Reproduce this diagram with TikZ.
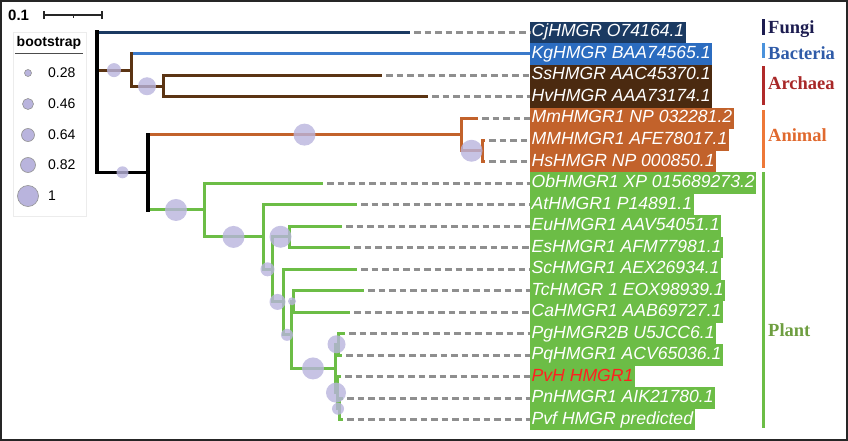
\documentclass[tikz,border=0pt]{standalone}
\usepackage{fontspec}
\setmainfont{Liberation Sans}
\newfontfamily\grpfont{Liberation Serif}
\usetikzlibrary{calc}
\definecolor{fungi}{HTML}{1B3A62}
\definecolor{bact}{HTML}{2B6CC0}
\definecolor{bactline}{HTML}{3B7ACB}
\definecolor{archbox}{HTML}{4B2A10}
\definecolor{archline}{HTML}{5B3413}
\definecolor{anim}{HTML}{C2622B}
\definecolor{plant}{HTML}{6CBD46}
\definecolor{pvred}{HTML}{FF2020}
\definecolor{bootfill}{HTML}{B9B4DD}
\definecolor{dashgrey}{HTML}{8F8F8F}
\definecolor{fungitxt}{HTML}{1C1C50}
\definecolor{bacttxt}{HTML}{2F5BA8}
\definecolor{bactbar}{HTML}{4A92DC}
\definecolor{archtxt}{HTML}{A82828}
\definecolor{archbar}{HTML}{B02A2A}
\definecolor{animtxt}{HTML}{E0692E}
\definecolor{animbar}{HTML}{EE7838}
\definecolor{planttxt}{HTML}{6E9E40}
\tikzset{
  lab/.style={anchor=west, text=white, font=\itshape\fontsize{17.6}{20}\selectfont,
    inner xsep=1.5pt, inner ysep=0pt, minimum height=21.5pt, text height=12.8pt, text depth=3.8pt},
  branch/.style={line width=3pt},
  vert/.style={line width=3pt, line cap=rect},
  tipline/.style={dashgrey, line width=3pt, dash pattern=on 6.5pt off 4pt, dash phase=6.5pt},
  boot/.style={fill=bootfill, fill opacity=0.8},
  bootkey/.style={circle, draw=gray!85, fill=bootfill, inner sep=0pt, line width=0.6pt},
  keytxt/.style={anchor=west, inner sep=0pt, font=\fontsize{14}{16}\selectfont},
  grp/.style={anchor=base west, inner sep=0pt, font=\grpfont\bfseries\fontsize{18.5}{20}\selectfont},
  grpbar/.style={line width=3pt},
  scalebar/.style={gray!30!black, line width=2pt},
}
\begin{document}
\begin{tikzpicture}[x=1pt,y=-1pt]
  \useasboundingbox (0,0) rectangle (848,441);
  \draw[line width=2pt, black!85] (1,1) rectangle (847,439.5);

  \node[lab, fill=fungi] (cj) at (530,32.5) {CjHMGR O74164.1};
  \node[lab, fill=bact] (kg) at (530,54) {KgHMGR BAA74565.1};
  \node[lab, fill=archbox] (ss) at (530,75.5) {SsHMGR AAC45370.1};
  \node[lab, fill=archbox] (hv) at (530,97) {HvHMGR AAA73174.1};
  \node[lab, fill=anim] (mm) at (530,118.5) {MmHMGR1 NP 032281.2};
  \node[lab, fill=anim] (mmm) at (530,140) {MMHMGR1 AFE78017.1};
  \node[lab, fill=anim] (hs) at (530,161.5) {HsHMGR NP 000850.1};
  \node[lab, fill=plant] (ob) at (530,183) {ObHMGR1 XP 015689273.2};
  \node[lab, fill=plant] (at) at (530,204.5) {AtHMGR1 P14891.1};
  \node[lab, fill=plant] (eu) at (530,226) {EuHMGR1 AAV54051.1};
  \node[lab, fill=plant] (es) at (530,247.5) {EsHMGR1 AFM77981.1};
  \node[lab, fill=plant] (sc) at (530,269) {ScHMGR1 AEX26934.1};
  \node[lab, fill=plant] (tc) at (530,290.5) {TcHMGR 1 EOX98939.1};
  \node[lab, fill=plant] (ca) at (530,312) {CaHMGR1 AAB69727.1};
  \node[lab, fill=plant] (pg) at (530,333.5) {PgHMGR2B U5JCC6.1};
  \node[lab, fill=plant] (pq) at (530,355) {PqHMGR1 ACV65036.1};
  \node[lab, fill=plant, text=pvred] (pvh) at (530,376.5) {PvH HMGR1};
  \node[lab, fill=plant] (pn) at (530,398) {PnHMGR1 AIK21780.1};
  \node[lab, fill=plant] (pvf) at (530,419.5) {Pvf HMGR predicted};

  \coordinate (cj-t) at (410,32.5);
  \coordinate (ss-t) at (382,75.5);
  \coordinate (hv-t) at (428,97);
  \coordinate (mm-t) at (478,118.5);
  \coordinate (mmm-t) at (485,140);
  \coordinate (hs-t) at (485,161.5);
  \coordinate (ob-t) at (323,183);
  \coordinate (at-t) at (357,204.5);
  \coordinate (eu-t) at (342,226);
  \coordinate (es-t) at (350,247.5);
  \coordinate (sc-t) at (357,269);
  \coordinate (tc-t) at (364,290.5);
  \coordinate (ca-t) at (350,312);
  \coordinate (pg-t) at (345,333.5);
  \coordinate (pq-t) at (342,355);
  \coordinate (pvh-t) at (341,376.5);
  \coordinate (pn-t) at (343,398);
  \coordinate (pvf-t) at (343,419.5);

  \coordinate (root) at (97,32.5);
  \coordinate (q) at (131,70.13);
  \coordinate (arch) at (163,86.25);
  \coordinate (r2) at (148,172.3);
  \coordinate (an) at (461,134.63);
  \coordinate (mmhs) at (482,150.75);
  \coordinate (p) at (204,209.96);
  \coordinate (a) at (263,236.92);
  \coordinate (b) at (272,269.34);
  \coordinate (eues) at (289,236.75);
  \coordinate (c) at (283,301.92);
  \coordinate (d) at (291,334.84);
  \coordinate (tcca) at (293,301.25);
  \coordinate (e) at (335,368.44);
  \coordinate (f1) at (338,344.25);
  \coordinate (g) at (337,392.63);
  \coordinate (h) at (339,408.75);

  \begin{scope}[tipline]
    \draw (cj-t) -- (cj.west);
    \draw (ss-t) -- (ss.west);
    \draw (hv-t) -- (hv.west);
    \draw (mm-t) -- (mm.west);
    \draw (mmm-t) -- (mmm.west);
    \draw (hs-t) -- (hs.west);
    \draw (ob-t) -- (ob.west);
    \draw (at-t) -- (at.west);
    \draw (eu-t) -- (eu.west);
    \draw (es-t) -- (es.west);
    \draw (sc-t) -- (sc.west);
    \draw (tc-t) -- (tc.west);
    \draw (ca-t) -- (ca.west);
    \draw (pg-t) -- (pg.west);
    \draw (pq-t) -- (pq.west);
    \draw (pvh-t) -- (pvh.west);
    \draw (pn-t) -- (pn.west);
    \draw (pvf-t) -- (pvf.west);
  \end{scope}

  \begin{scope}[branch]
    \draw[fungi] (root |- cj-t) -- (cj-t);
    \draw[archline] (root |- q) -- (q);
    \draw[bactline] (q |- kg) -- (kg.west);
    \draw[archline] (q |- arch) -- (arch);
    \draw[archline] (arch |- ss-t) -- (ss-t);
    \draw[archline] (arch |- hv-t) -- (hv-t);
    \draw[black] (root |- r2) -- (r2);
    \draw[anim] (r2 |- an) -- (an);
    \draw[anim] (an |- mm-t) -- (mm-t);
    \draw[anim] (an |- mmhs) -- (mmhs);
    \draw[anim] (mmhs |- mmm-t) -- (mmm-t);
    \draw[anim] (mmhs |- hs-t) -- (hs-t);
  \end{scope}
  \begin{scope}[branch, plant]
    \draw (r2 |- p) -- (p);
    \draw (p |- ob-t) -- (ob-t);
    \draw (p |- a) -- (a);
    \draw (a |- at-t) -- (at-t);
    \draw (a |- b) -- (b);
    \draw (b |- eues) -- (eues);
    \draw (eues |- eu-t) -- (eu-t);
    \draw (eues |- es-t) -- (es-t);
    \draw (b |- c) -- (c);
    \draw (c |- sc-t) -- (sc-t);
    \draw (c |- d) -- (d);
    \draw (d |- tcca) -- (tcca);
    \draw (tcca |- tc-t) -- (tc-t);
    \draw (tcca |- ca-t) -- (ca-t);
    \draw (d |- e) -- (e);
    \draw (e |- f1) -- (f1);
    \draw (f1 |- pg-t) -- (pg-t);
    \draw (f1 |- pq-t) -- (pq-t);
    \draw (e |- g) -- (g);
    \draw (g |- pvh-t) -- (pvh-t);
    \draw (g |- h) -- (h);
    \draw (h |- pn-t) -- (pn-t);
    \draw (h |- pvf-t) -- (pvf-t);
  \end{scope}

  \begin{scope}[vert]
    \draw[black, line width=4pt] (root |- cj-t) -- (root |- r2);
    \draw[archline] (q |- kg) -- (q |- arch);
    \draw[archline] (arch |- ss-t) -- (arch |- hv-t);
    \draw[black, line width=4pt] (r2 |- an) -- (r2 |- p);
    \draw[anim] (an |- mm-t) -- (an |- mmhs);
    \draw[anim] (mmhs |- mmm-t) -- (mmhs |- hs-t);
    \draw[plant] (p |- ob-t) -- (p |- a);
    \draw[plant] (a |- at-t) -- (a |- b);
    \draw[plant] (b |- eues) -- (b |- c);
    \draw[plant] (eues |- eu-t) -- (eues |- es-t);
    \draw[plant] (c |- sc-t) -- (c |- d);
    \draw[plant] (d |- tcca) -- (d |- e);
    \draw[plant] (tcca |- tc-t) -- (tcca |- ca-t);
    \draw[plant] (e |- f1) -- (e |- g);
    \draw[plant] (f1 |- pg-t) -- (f1 |- pq-t);
    \draw[plant] (g |- pvh-t) -- (g |- h);
    \draw[plant] (h |- pn-t) -- (h |- pvf-t);
  \end{scope}

  \begin{scope}[boot]
    \fill ($(root |- q)!0.5!(q)$) circle (7pt);
    \fill ($(q |- arch)!0.5!(arch)$) circle (9pt);
    \fill ($(root |- r2)!0.5!(r2)$) circle (6pt);
    \fill ($(r2 |- an)!0.5!(an)$) circle (11pt);
    \fill ($(an |- mmhs)!0.5!(mmhs)$) circle (11pt);
    \fill ($(r2 |- p)!0.5!(p)$) circle (11pt);
    \fill ($(p |- a)!0.5!(a)$) circle (11pt);
    \fill ($(b |- eues)!0.5!(eues)$) circle (11pt);
    \fill ($(a |- b)!0.5!(b)$) circle (7pt);
    \fill ($(b |- c)!0.5!(c)$) circle (8pt);
    \fill ($(c |- d)!0.5!(d)$) circle (6pt);
    \fill ($(d |- tcca)!0.5!(tcca)$) circle (4pt);
    \fill ($(d |- e)!0.5!(e)$) circle (11pt);
    \fill ($(e |- f1)!0.5!(f1)$) circle (9pt);
    \fill ($(e |- g)!0.5!(g)$) circle (10pt);
    \fill ($(g |- h)!0.5!(h)$) circle (6pt);
  \end{scope}

  \draw[grpbar, fungitxt] (763,19.5) -- (763,35.5);
  \node[grp, text=fungitxt] (fungilab) at (768,33.5) {Fungi};
  \draw[grpbar, bactbar] (763,43) -- (763,58.5);
  \node[grp, text=bacttxt] (bactlab) at (768,60) {Bacteria};
  \draw[grpbar, archbar] (763,66.5) -- (763,105);
  \node[grp, text=archtxt] (archlab) at (768,90) {Archaea};
  \draw[grpbar, animbar] (763,110) -- (763,168);
  \node[grp, text=animtxt] (animlab) at (768,141.7) {Animal};
  \draw[grpbar, plant] (763,172) -- (763,428);
  \node[grp, text=planttxt] (plantlab) at (768,336.7) {Plant};

  \node[anchor=base west, inner sep=0pt, font=\bfseries\fontsize{15}{17}\selectfont] (scale) at (8,21) {0.1};
  \coordinate (s0) at (44,15.5);
  \coordinate (s1) at (102,15.5);
  \draw[scalebar] (s0) -- (s1);
  \draw[scalebar, line width=1.5pt] ([yshift=4pt]s0) -- ([yshift=-4pt]s0);
  \draw[scalebar, line width=1.5pt] ([yshift=4pt]s1) -- ([yshift=-4pt]s1);
  \draw[scalebar, line width=1pt] ($(s0)!0.5!(s1)$) -- ++(0,2.5);

  \draw[gray!15, line width=0.8pt] (13,32) rectangle (86,216);
  \node[anchor=base, inner sep=0pt, font=\bfseries\fontsize{14}{16}\selectfont] (bs) at (49,46.5) {bootstrap};
  \draw[gray!60!black, line width=0.8pt] (15,53.5) -- (83,53.5);
  \node[bootkey, minimum size=7pt] (k1) at (28,73) {};
  \node[bootkey, minimum size=11pt] (k2) at (28,104) {};
  \node[bootkey, minimum size=13pt] (k3) at (28,135) {};
  \node[bootkey, minimum size=15pt] (k4) at (28,165) {};
  \node[bootkey, minimum size=21pt] (k5) at (28,196) {};
  \node[keytxt] (t1) at (48,73) {0.28};
  \node[keytxt] (t2) at (48,104) {0.46};
  \node[keytxt] (t3) at (48,135) {0.64};
  \node[keytxt] (t4) at (48,165) {0.82};
  \node[keytxt] (t5) at (48,196) {1};
\end{tikzpicture}
\end{document}
